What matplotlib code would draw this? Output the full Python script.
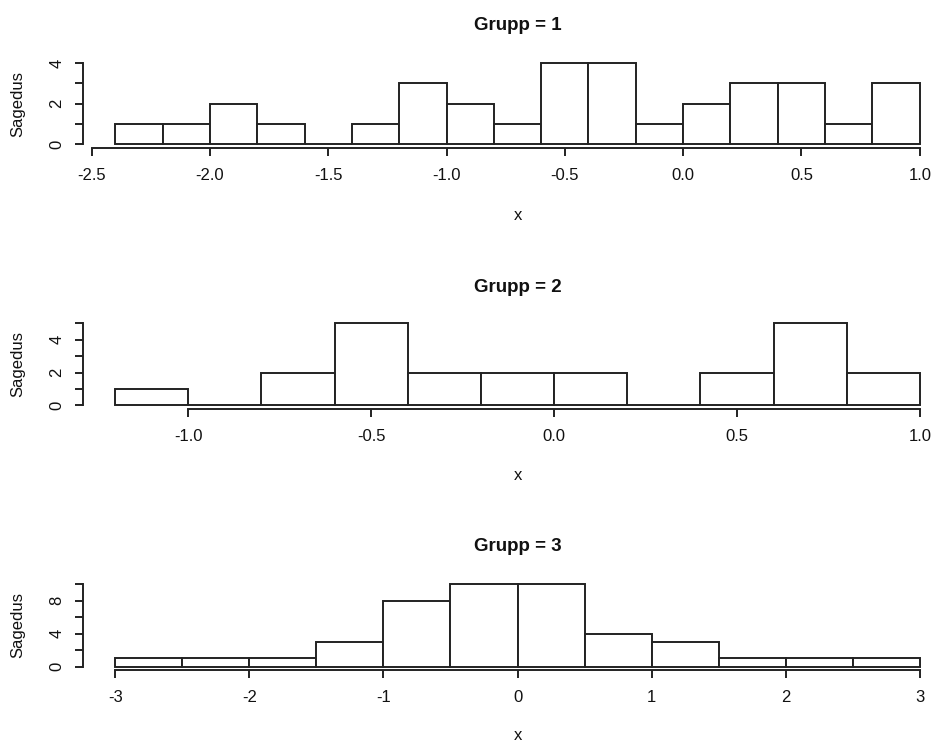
import numpy as np
import matplotlib
matplotlib.use("Agg")
import matplotlib.pyplot as plt

plt.rcParams["font.family"] = ["Liberation Sans", "DejaVu Sans"]

# Histogram bins and counts for each group
edges_1 = np.round(np.arange(-2.4, 1.0001, 0.2), 2)
counts_1 = [1, 1, 2, 1, 0, 1, 3, 2, 1, 4, 4, 1, 2, 3, 3, 1, 3]
xticks_1 = [-2.5, -2.0, -1.5, -1.0, -0.5, 0.0, 0.5, 1.0]
xlabels_1 = ["-2.5", "-2.0", "-1.5", "-1.0", "-0.5", "0.0", "0.5", "1.0"]
yticks_1 = [0, 1, 2, 3, 4]
ylabels_1 = ["0", "", "2", "", "4"]

edges_2 = np.round(np.arange(-1.2, 1.0001, 0.2), 2)
counts_2 = [1, 0, 2, 5, 2, 2, 2, 0, 2, 5, 2]
xticks_2 = [-1.0, -0.5, 0.0, 0.5, 1.0]
xlabels_2 = ["-1.0", "-0.5", "0.0", "0.5", "1.0"]
yticks_2 = [0, 1, 2, 3, 4, 5]
ylabels_2 = ["0", "", "2", "", "4", ""]

edges_3 = np.round(np.arange(-3.0, 3.0001, 0.5), 2)
counts_3 = [1, 1, 1, 3, 8, 10, 10, 4, 3, 1, 1, 1]
xticks_3 = [-3, -2, -1, 0, 1, 2, 3]
xlabels_3 = ["-3", "-2", "-1", "0", "1", "2", "3"]
yticks_3 = [0, 2, 4, 6, 8, 10]
ylabels_3 = ["0", "", "4", "", "8", ""]

titles = ["Grupp = 1", "Grupp = 2", "Grupp = 3"]

W, H = 933, 745
fig = plt.figure(figsize=(W / 100, H / 100), dpi=100)

# plot regions in pixels: (left, right, top, bottom)
regions = [(83, 952, 60, 147.5), (83, 952, 320, 408.6), (83, 952, 580.7, 670)]
title_base = [30, 292.3, 551]
xlab_base = [220, 480, 740]

panels = [
    (edges_1, counts_1, xticks_1, xlabels_1, yticks_1, ylabels_1),
    (edges_2, counts_2, xticks_2, xlabels_2, yticks_2, ylabels_2),
    (edges_3, counts_3, xticks_3, xlabels_3, yticks_3, ylabels_3),
]

ink = "#222222"
txt = "#111111"
lw = 1.4

for i, (edges, counts, xt, xl, yt, yl) in enumerate(panels):
    l, r, t, b = regions[i]
    ax = fig.add_axes([l / W, 1 - b / H, (r - l) / W, (b - t) / H])
    ax.patch.set_alpha(0)
    widths = np.diff(edges)
    ax.bar(edges[:-1], counts, width=widths, align="edge",
           facecolor="white", edgecolor=ink, linewidth=lw)
    x0, x1 = edges[0], edges[-1]
    pad = 0.04 * (x1 - x0)
    ax.set_xlim(x0 - pad, x1 + pad)
    ymax = max(counts)
    ax.set_ylim(-0.04 * ymax, ymax * 1.04)

    ax.set_xticks(xt)
    ax.set_xticklabels(xl)
    ax.set_yticks(yt)
    ax.set_yticklabels(yl, rotation=90, va="center")

    for s in ("top", "right"):
        ax.spines[s].set_visible(False)
    for s in ("left", "bottom"):
        ax.spines[s].set_color(ink)
        ax.spines[s].set_linewidth(lw)
    ax.spines["bottom"].set_bounds(xt[0], xt[-1])
    ax.spines["left"].set_bounds(yt[0], yt[-1])
    ax.tick_params(axis="x", length=6.0, width=lw, color=ink,
                   labelsize=12, pad=8.5, labelcolor=txt)
    ax.tick_params(axis="y", length=6.0, width=lw, color=ink,
                   labelsize=12, pad=7.5, labelcolor=txt)

    cx = ((l + r) / 2) / W
    fig.text(cx, 1 - title_base[i] / H, titles[i], ha="center", va="baseline",
             fontsize=13.5, fontweight="bold", color=txt)
    fig.text(cx, 1 - xlab_base[i] / H, "x", ha="center", va="baseline",
             fontsize=12, color=txt)
    fig.text(18 / W, 1 - ((t + b) / 2) / H, "Sagedus", rotation=90,
             ha="center", va="center", fontsize=12, color=txt)

fig.savefig("out.png", dpi=100)
